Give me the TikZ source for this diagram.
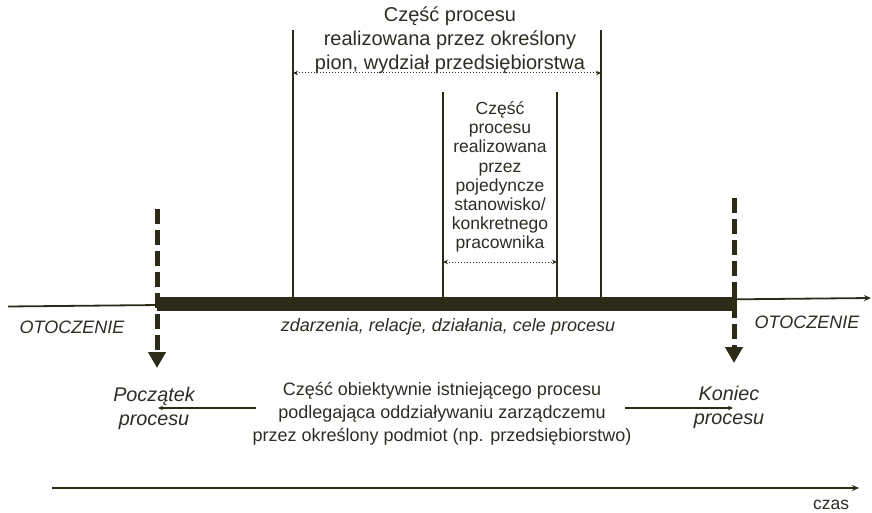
\documentclass[tikz,border=0pt]{standalone}
\usepackage{fontspec}
\setmainfont{Liberation Sans}
\usetikzlibrary{arrows.meta}
\definecolor{ink}{RGB}{43,43,24}
\definecolor{txt}{RGB}{45,45,35}
\begin{document}
\begin{tikzpicture}[x=1pt,y=-1pt,
  every node/.style={text=txt, inner sep=0pt, align=center},
  bigtext/.style={font=\fontsize{20}{24}\selectfont},
  midtext/.style={font=\fontsize{18}{23}\selectfont},
  smalltext/.style={font=\fontsize{17.5}{19.1}\selectfont},
  itlabel/.style={font=\fontsize{18}{24}\selectfont\itshape},
  endlabel/.style={font=\fontsize{19.8}{24}\selectfont\itshape},
  bound/.style={draw=ink, line width=2.2pt},
  spanarrow/.style={draw=ink, line width=1pt, dotted,
    {Stealth[length=5pt,width=4.5pt]}-{Stealth[length=5pt,width=4.5pt]}},
  flow/.style={draw=ink, line width=1.8pt, -{Stealth[length=7pt,width=6pt]}},
  thinarrow/.style={draw=ink, line width=1.3pt, -{Stealth[length=5pt,width=4.5pt]}},
  marker/.style={draw=ink, line width=5pt, dash pattern=on 15pt off 6pt,
    -{Triangle[length=16pt,width=17pt]}},
]
\useasboundingbox (0,0) rectangle (872,513);

% process time line and the bar of the managed part
\coordinate (axL) at (8,306.5);
\coordinate (axR) at (871,298);
\draw[flow] (axL) -- (axR);
\node[fill=ink, minimum width=580pt, minimum height=14pt] (bar) at (447,304) {};

% department boundaries
\coordinate (d1) at (293,30);
\coordinate (d2) at (601,30);
\draw[bound] (d1) -- (d1 |- bar.north);
\draw[bound] (d2) -- (d2 |- bar.north);
\coordinate (d1a) at (293,73);
\coordinate (d2a) at (601,73);
\draw[spanarrow] (d1a) -- (d2a);

% workstation boundaries
\coordinate (w1) at (443,92);
\coordinate (w2) at (557,92);
\draw[bound] (w1) -- (w1 |- bar.north);
\draw[bound] (w2) -- (w2 |- bar.north);
\coordinate (w1a) at (443,262);
\coordinate (w2a) at (557,262);
\draw[spanarrow] (w1a) -- (w2a);

% start and end markers
\coordinate (sTop) at (157,209);
\coordinate (sEnd) at (157,368);
\coordinate (eTop) at (734,198);
\coordinate (eEnd) at (734,363);
\draw[marker] (sTop) -- (sEnd);
\draw[marker] (eTop) -- (eEnd);

% labels
\node[bigtext] (dept) at (450,40)
  {Część procesu\\realizowana przez określony\\pion, wydział przedsiębiorstwa};
\node[smalltext] (post) at (500,177)
  {Część\\procesu\\realizowana\\przez\\pojedyncze\\stanowisko/\\konkretnego\\pracownika};
\node[itlabel] (envL) at (72,327) {OTOCZENIE};
\node[itlabel] (envR) at (807,322) {OTOCZENIE};
\node[itlabel] (events) at (448,327) {zdarzenia, relacje, działania, cele procesu};
\node[endlabel] (start) at (154,408) {Początek\\procesu};
\node[endlabel] (stop) at (729,407) {Koniec\\procesu};
\node[midtext] (part) at (442,414)
  {Część obiektywnie istniejącego procesu\\podlegająca oddziaływaniu zarządczemu\\przez określony podmiot (np. przedsiębiorstwo)};

% arrows from the description towards start and end
\coordinate (pL) at (256,408);
\coordinate (pR) at (625,408);
\coordinate (pLtip) at (158,408);
\coordinate (pRtip) at (733,408);
\draw[thinarrow] (pL) -- (pLtip);
\draw[thinarrow] (pR) -- (pRtip);

% time axis
\coordinate (tL) at (52,488);
\coordinate (tR) at (859,488);
\draw[flow] (tL) -- (tR);
\node[font=\fontsize{17.5}{20}\selectfont] (time) at (831,505) {czas};
\end{tikzpicture}
\end{document}
